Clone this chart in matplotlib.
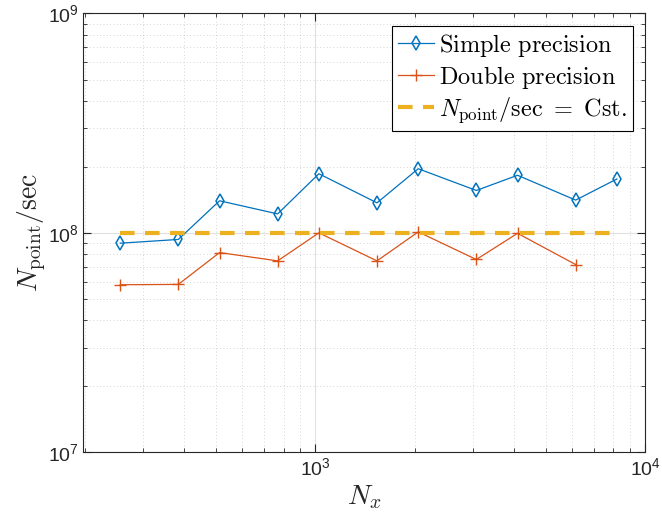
import matplotlib
matplotlib.use("Agg")
import matplotlib.pyplot as plt
from matplotlib.ticker import LogLocator, NullFormatter, FixedLocator

plt.rcParams['mathtext.fontset'] = 'cm'
plt.rcParams['font.family'] = ['Liberation Sans', 'DejaVu Sans']

nx_simple = [256, 384, 512, 768, 1024, 1536, 2048, 3072, 4096, 6144, 8192]
simple = [8.97e7, 9.33e7, 1.40e8, 1.22e8, 1.86e8, 1.37e8, 1.96e8, 1.56e8, 1.83e8, 1.41e8, 1.76e8]
nx_double = [256, 384, 512, 768, 1024, 1536, 2048, 3072, 4096, 6144]
double = [5.80e7, 5.82e7, 8.13e7, 7.45e7, 1.0e8, 7.45e7, 1.01e8, 7.56e7, 0.995e8, 7.17e7]
nx_cst = [256, 8192]
cst = [1e8, 1e8]

blue = (0, 0.447, 0.741)
orange = (0.85, 0.325, 0.098)
yellow = (0.929, 0.694, 0.125)
dark = (0.15, 0.15, 0.15)

fig = plt.figure(figsize=(6.62, 5.18), dpi=100)
ax = fig.add_axes([0.126, 0.127, 0.849, 0.847])

ax.plot(nx_simple, simple, color=blue, lw=0.9, marker='d', ms=7, mfc='none', mew=1.1,
        label=r'$\mathrm{Simple\ precision}$')
ax.plot(nx_double, double, color=orange, lw=0.9, marker='+', ms=9, mew=1.0,
        label=r'$\mathrm{Double\ precision}$')
ax.plot(nx_cst, cst, color=yellow, lw=3, ls=(0, (3.5, 2.5)),
        label=r'$N_{\mathrm{point}}/\mathrm{sec}\ =\ \mathrm{Cst.}$')

ax.set_xscale('log')
ax.set_yscale('log')
ax.set_xlim(198, 1e4)
ax.set_ylim(1e7, 1e9)

ax.xaxis.set_major_locator(FixedLocator([1e3, 1e4]))
ax.yaxis.set_major_locator(FixedLocator([1e7, 1e8, 1e9]))
ax.xaxis.set_minor_locator(LogLocator(base=10, subs=range(2, 10)))
ax.yaxis.set_minor_locator(LogLocator(base=10, subs=range(2, 10)))
ax.xaxis.set_minor_formatter(NullFormatter())
ax.yaxis.set_minor_formatter(NullFormatter())

ax.grid(True, which='major', color=(0.88, 0.88, 0.88), lw=0.8, ls='-')
ax.grid(True, which='minor', color=(0.78, 0.78, 0.78), lw=0.6, ls=(0, (1, 3)))
ax.set_axisbelow(True)

ax.tick_params(which='both', direction='in', top=True, right=True, colors=dark)
ax.tick_params(which='major', length=6, labelsize=14)
ax.tick_params(which='minor', length=3)
for s in ax.spines.values():
    s.set_color(dark)
    s.set_linewidth(0.8)

fig.canvas.draw()
for lab in ax.get_xticklabels() + ax.get_yticklabels():
    lab.set_math_fontfamily('dejavusans')
    lab.set_color(dark)

ax.set_xlabel(r'$N_x$', fontsize=20, color=dark, labelpad=3)
ax.set_ylabel(r'$N_{\mathrm{point}}/\mathrm{sec}$', fontsize=20, color=dark, labelpad=0)

leg = ax.legend(loc='upper right', fontsize=17.5, frameon=True, fancybox=False,
                edgecolor='black', framealpha=1, handlelength=1.5, handletextpad=0.2,
                borderpad=0.25, labelspacing=0.2, borderaxespad=0.5)
leg.get_frame().set_linewidth(0.8)

fig.savefig('out.png', dpi=100)
